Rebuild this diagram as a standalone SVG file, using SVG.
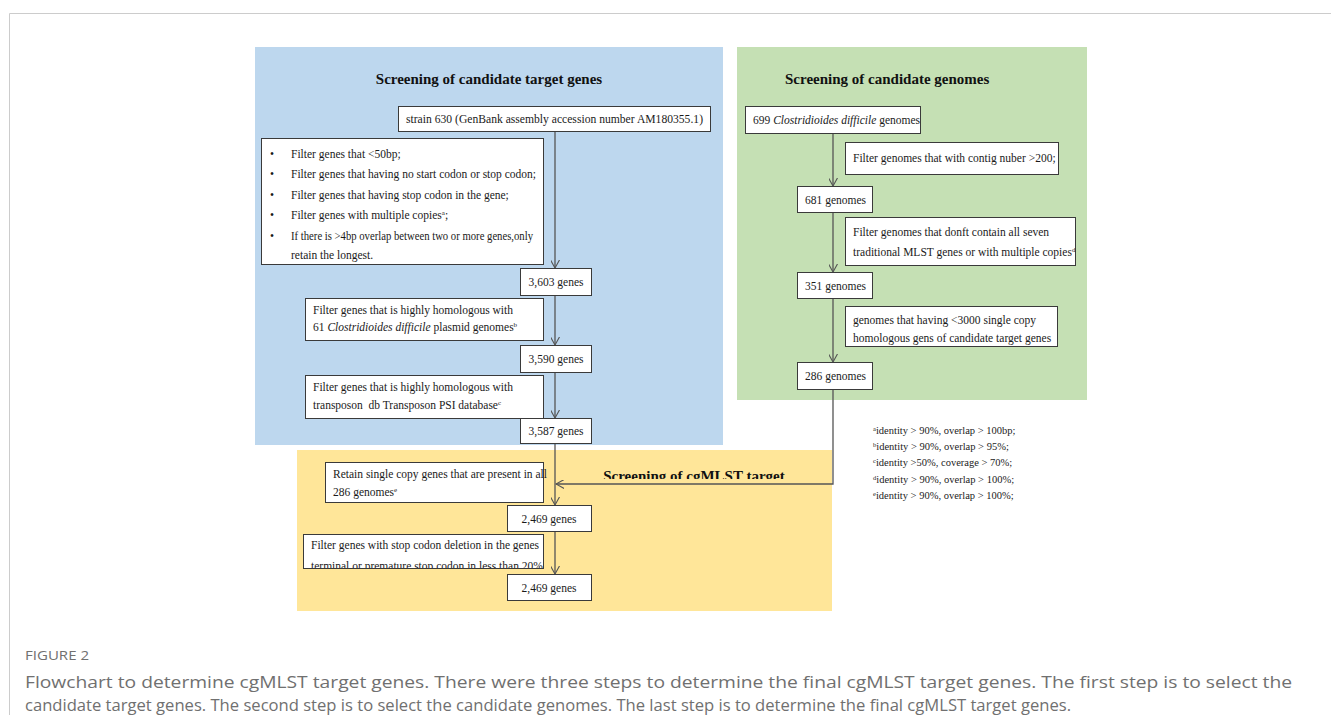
<svg xmlns="http://www.w3.org/2000/svg" width="1331" height="715" viewBox="0 0 1331 715">
<defs>
<style>
.t{font-family:"Liberation Serif","Times New Roman",serif;font-size:11.5px;fill:#1a1a1a}
.ti{font-style:italic}
.h{font-family:"Liberation Serif","Times New Roman",serif;font-size:15px;font-weight:bold;fill:#111}
.box{fill:#fff;stroke:#3a3a3a;stroke-width:1}
.c{fill:none;stroke:#555;stroke-width:1.3}
.fn{font-family:"Liberation Serif","Times New Roman",serif;font-size:10.5px;fill:#222}
.cap{font-family:"Open Sans","Noto Sans",sans-serif;fill:#707070}
</style>
<marker id="ah" viewBox="0 0 10 10" refX="9" refY="5" markerWidth="9" markerHeight="9" markerUnits="userSpaceOnUse" orient="auto">
<path d="M0,0 L9,5 L0,10" fill="none" stroke="#555" stroke-width="1.2"/>
</marker>
<clipPath id="clipY"><rect x="560" y="455" width="270" height="24"/></clipPath>
</defs>
<rect width="1331" height="715" fill="#fff"/>
<path d="M9.5,715 V13.5 H1331" fill="none" stroke="#ccc" stroke-width="1"/>

<g id="panels">
<rect id="panel-blue" x="255" y="47" width="468" height="398" fill="#bdd7ee"/>
<rect id="panel-green" x="737" y="47" width="350" height="353" fill="#c5e0b4"/>
<rect id="panel-yellow" x="297" y="450" width="535" height="161" fill="#ffe699"/>
<text class="h" x="489" y="84" text-anchor="middle">Screening of candidate target genes</text>
<text class="h" x="785" y="84">Screening of candidate genomes</text>
<text class="h" x="694" y="481" text-anchor="middle" clip-path="url(#clipY)">Screening of cgMLST target</text>
</g>

<g id="connectors">
<line class="c" x1="555" y1="131" x2="555" y2="268" marker-end="url(#ah)"/>
<line class="c" x1="555" y1="295" x2="555" y2="345" marker-end="url(#ah)"/>
<line class="c" x1="555" y1="372" x2="555" y2="418" marker-end="url(#ah)"/>
<line class="c" x1="555" y1="443" x2="555" y2="505" marker-end="url(#ah)"/>
<line class="c" x1="555" y1="531" x2="555" y2="574" marker-end="url(#ah)"/>
<line class="c" x1="833" y1="133" x2="833" y2="186" marker-end="url(#ah)"/>
<line class="c" x1="833" y1="212" x2="833" y2="272" marker-end="url(#ah)"/>
<line class="c" x1="833" y1="298" x2="833" y2="362" marker-end="url(#ah)"/>
<polyline class="c" points="833,389 833,484 556,484" marker-end="url(#ah)"/>
</g>

<g id="n-strain">
<rect class="box" x="398.5" y="106.5" width="312" height="25"/>
<text class="t" x="406" y="123" textLength="297" lengthAdjust="spacingAndGlyphs">strain 630 (GenBank assembly accession number AM180355.1)</text>
</g>

<g id="n-filter1">
<rect class="box" x="261.5" y="138.5" width="282" height="126"/>
<g class="t">
<text x="270" y="158">•</text><text x="291" y="158">Filter genes that &lt;50bp;</text>
<text x="270" y="178">•</text><text x="291" y="178">Filter genes that having no start codon or stop codon;</text>
<text x="270" y="198.5">•</text><text x="291" y="198.5">Filter genes that having stop codon in the gene;</text>
<text x="270" y="219">•</text><text x="291" y="219">Filter genes with multiple copies<tspan font-size="7" dy="-4">a</tspan><tspan dy="4">;</tspan></text>
<text x="270" y="239.5">•</text><text x="291" y="239.5" textLength="242" lengthAdjust="spacingAndGlyphs">If there is &gt;4bp overlap between two or more genes,only</text>
<text x="291" y="259">retain the longest.</text>
</g>
</g>

<g id="n-3603">
<rect class="box" x="520.5" y="268.5" width="71" height="27"/>
<text class="t" x="556" y="286" text-anchor="middle">3,603 genes</text>
</g>

<g id="n-filter2">
<rect class="box" x="305.5" y="298.5" width="238" height="42"/>
<text class="t" x="313" y="314">Filter genes that is highly homologous with</text>
<text class="t" x="313" y="331">61 <tspan class="ti">Clostridioides difficile</tspan> plasmid genomes<tspan font-size="7" dy="-4">b</tspan></text>
</g>

<g id="n-3590">
<rect class="box" x="520.5" y="345.5" width="71" height="27"/>
<text class="t" x="556" y="363" text-anchor="middle">3,590 genes</text>
</g>

<g id="n-filter3">
<rect class="box" x="305.5" y="375.5" width="238" height="43"/>
<text class="t" x="313" y="391">Filter genes that is highly homologous with</text>
<text class="t" x="313" y="409" xml:space="preserve">transposon  db Transposon PSI database<tspan font-size="7" dy="-4">c</tspan></text>
</g>

<g id="n-3587">
<rect class="box" x="520.5" y="418.5" width="71" height="25"/>
<text class="t" x="556" y="435" text-anchor="middle">3,587 genes</text>
</g>

<g id="n-retain">
<rect class="box" x="325.5" y="462.5" width="218" height="40"/>
<text class="t" x="333" y="478">Retain single copy genes that are present in all</text>
<text class="t" x="333" y="496">286 genomes<tspan font-size="7" dy="-4">e</tspan></text>
</g>

<g id="n-2469a">
<rect class="box" x="507.5" y="505.5" width="84" height="26"/>
<text class="t" x="549" y="523" text-anchor="middle">2,469 genes</text>
</g>

<g id="n-filter4">
<svg x="303" y="534" width="241" height="35" overflow="hidden">
<rect class="box" x="0.5" y="0.5" width="240" height="40"/>
<text class="t" x="8" y="15">Filter genes with stop codon deletion in the genes</text>
<text class="t" x="8" y="36">terminal or premature stop codon in less than 20%</text>
</svg>
<line x1="303" y1="568.5" x2="544" y2="568.5" stroke="#3a3a3a" stroke-width="1"/>
</g>

<g id="n-2469b">
<rect class="box" x="507.5" y="574.5" width="84" height="26"/>
<text class="t" x="549" y="592" text-anchor="middle">2,469 genes</text>
</g>

<g id="n-699">
<rect class="box" x="745.5" y="106.5" width="175" height="27"/>
<text class="t" x="753" y="124" font-size="10.9">699 <tspan class="ti">Clostridioides difficile</tspan> genomes</text>
</g>

<g id="n-contig">
<rect class="box" x="845.5" y="142.5" width="213" height="32"/>
<text class="t" x="853" y="162">Filter genomes that with contig nuber &gt;200;</text>
</g>

<g id="n-681">
<rect class="box" x="797.5" y="186.5" width="75" height="26"/>
<text class="t" x="805" y="204">681 genomes</text>
</g>

<g id="n-seven">
<rect class="box" x="845.5" y="217.5" width="230" height="48"/>
<text class="t" x="853" y="236">Filter genomes that donft contain all seven</text>
<text class="t" x="853" y="256">traditional MLST genes or with multiple copies<tspan font-size="7" dy="-4">d</tspan></text>
</g>

<g id="n-351">
<rect class="box" x="797.5" y="272.5" width="75" height="26"/>
<text class="t" x="805" y="290">351 genomes</text>
</g>

<g id="n-3000">
<rect class="box" x="845.5" y="306.5" width="212" height="40"/>
<text class="t" x="853" y="324">genomes that having &lt;3000 single copy</text>
<text class="t" x="853" y="342">homologous gens of candidate target genes</text>
</g>

<g id="n-286">
<rect class="box" x="797.5" y="362.5" width="75" height="27"/>
<text class="t" x="805" y="380">286 genomes</text>
</g>

<g id="footnotes" class="fn">
<text x="873" y="434"><tspan font-size="6.5" dy="-3.5">a</tspan><tspan dy="3.5">identity &gt; 90%, overlap &gt; 100bp;</tspan></text>
<text x="873" y="450"><tspan font-size="6.5" dy="-3.5">b</tspan><tspan dy="3.5">identity &gt; 90%, overlap &gt; 95%;</tspan></text>
<text x="873" y="466"><tspan font-size="6.5" dy="-3.5">c</tspan><tspan dy="3.5">identity &gt;50%, coverage &gt; 70%;</tspan></text>
<text x="873" y="483"><tspan font-size="6.5" dy="-3.5">d</tspan><tspan dy="3.5">identity &gt; 90%, overlap &gt; 100%;</tspan></text>
<text x="873" y="499"><tspan font-size="6.5" dy="-3.5">e</tspan><tspan dy="3.5">identity &gt; 90%, overlap &gt; 100%;</tspan></text>
</g>

<g id="caption">
<text class="cap" x="25" y="660" font-size="12" fill="#555" textLength="64" lengthAdjust="spacingAndGlyphs">FIGURE 2</text>
<text class="cap" x="25" y="688" font-size="16" textLength="1267" lengthAdjust="spacingAndGlyphs">Flowchart to determine cgMLST target genes. There were three steps to determine the final cgMLST target genes. The first step is to select the</text>
<text class="cap" x="25" y="711" font-size="16" textLength="1046" lengthAdjust="spacingAndGlyphs">candidate target genes. The second step is to select the candidate genomes. The last step is to determine the final cgMLST target genes.</text>
</g>
</svg>
